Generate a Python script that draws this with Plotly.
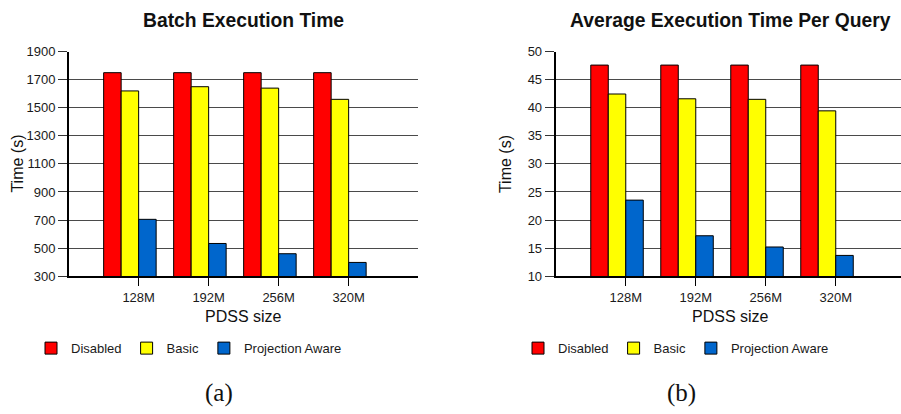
import plotly.graph_objects as go

# Data
sizes = ["128M", "192M", "256M", "320M"]
series = ["Disabled", "Basic", "Projection Aware"]
colors = ["#FF0000", "#FFFF00", "#0066CC"]

batch_disabled = [1750, 1750, 1750, 1750]
batch_basic = [1620, 1650, 1640, 1560]
batch_proj = [705, 533, 460, 398]

avg_disabled = [47.6, 47.6, 47.6, 47.6]
avg_basic = [42.45, 41.6, 41.5, 39.45]
avg_proj = [23.55, 17.2, 15.2, 13.7]

batch_ticks = [300, 500, 700, 900, 1100, 1300, 1500, 1700, 1900]
avg_ticks = [10, 15, 20, 25, 30, 35, 40, 45, 50]

W, H = 901, 414
FONT = "Liberation Sans, Arial, sans-serif"
SERIF = "Liberation Serif, Times New Roman, serif"
TXT = "#1a1a1a"

pos = [i + 1 for i in range(len(sizes))]
bar_w = 0.25
tick_pos = [p + bar_w / 2 for p in pos]


def px_x(v):
    return v / W


def px_y(v):
    return 1 - v / H


fig = go.Figure()

panels = [
    ("x", "y", "legend", [batch_disabled, batch_basic, batch_proj]),
    ("x2", "y2", "legend2", [avg_disabled, avg_basic, avg_proj]),
]
for xa, ya, lg, vals in panels:
    for name, col, v in zip(series, colors, vals):
        fig.add_trace(go.Bar(
            x=pos, y=v, name=name, xaxis=xa, yaxis=ya, legend=lg,
            marker=dict(color=col, line=dict(color="#000000", width=1)),
            hoverinfo="y",
        ))

plot_top, plot_bot = 46.3, 279.3
ydom = [px_y(plot_bot), px_y(plot_top)]

common_x = dict(
    showline=True, linecolor="#000000", linewidth=1.5,
    ticks="outside", ticklen=8, tickcolor="#000000", tickwidth=1,
    tickvals=tick_pos, ticktext=sizes, showgrid=False, zeroline=False,
    tickfont=dict(family=FONT, size=13, color=TXT),
)
common_y = dict(
    showline=True, linecolor="#000000", linewidth=2,
    ticks="outside", ticklen=9, tickcolor="#333333", tickwidth=1,
    showgrid=True, gridcolor="#4a4a4a", gridwidth=1, zeroline=False,
    tickfont=dict(family=FONT, size=13, color=TXT), domain=ydom,
)

legend_style = dict(orientation="h", xanchor="left", yanchor="middle",
                    font=dict(family=FONT, size=13, color=TXT),
                    bgcolor="rgba(0,0,0,0)")

fig.update_layout(
    width=W, height=H,
    margin=dict(l=0, r=0, t=0, b=0),
    paper_bgcolor="white", plot_bgcolor="white",
    barmode="group", bargap=0.25, bargroupgap=0,
    font=dict(family=FONT, color=TXT),
    xaxis=dict(common_x, domain=[px_x(69), px_x(418.3)], range=[0.13, 5.12], anchor="y"),
    yaxis=dict(common_y, range=[300, 1900], tickvals=batch_ticks, anchor="x"),
    xaxis2=dict(common_x, domain=[px_x(555.7), 1], range=[0.124, 5.057], anchor="y2"),
    yaxis2=dict(common_y, range=[10, 50], tickvals=avg_ticks, anchor="x2"),
    legend=dict(legend_style, x=px_x(31), y=px_y(354)),
    legend2=dict(legend_style, x=px_x(518), y=px_y(354)),
)

annos = [
    ("<b>Batch Execution Time</b>", 243.5, 14, 19.3, FONT, 0),
    ("<b>Average Execution Time Per Query</b>", 730, 14, 19.3, FONT, 0),
    ("PDSS size", 243.5, 321, 16, FONT, 0),
    ("PDSS size", 730, 321, 16, FONT, 0),
    ("Time (s)", 17.5, 163, 16, FONT, -90),
    ("Time (s)", 505, 163, 16, FONT, -90),
    ("(a)", 219, 400, 25, SERIF, 0),
    ("(b)", 681, 400, 25, SERIF, 0),
]
for text, x, y, size, fam, ang in annos:
    fig.add_annotation(
        text=text, x=px_x(x), y=px_y(y), xref="paper", yref="paper",
        xanchor="center", yanchor="middle", showarrow=False, textangle=ang,
        font=dict(family=fam, size=size, color="#111111"),
    )

fig.write_html("out.html")
